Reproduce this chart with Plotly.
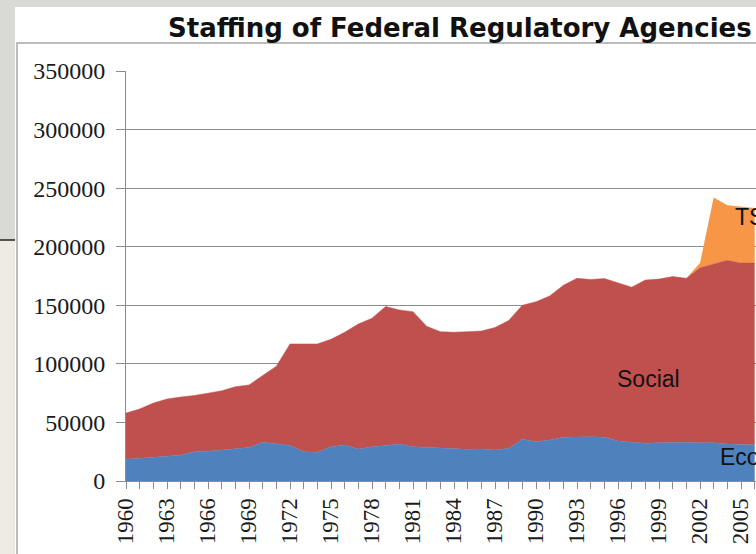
import plotly.graph_objects as go

years = list(range(1960, 2007))
economic = [18500, 19300, 20200, 21300, 21900, 25000, 25300, 26500, 27300, 28500,
            33000, 31600, 30400, 25000, 24500, 29300, 30700, 27300, 29300, 30400,
            31600, 29300, 28700, 27600, 27000, 27000, 27300, 26500, 27900, 35600,
            33600, 35000, 37300, 37800, 37800, 37300, 34100, 33000, 32200, 32700,
            33000, 33000, 32700, 32700, 31600, 31600, 31000]
social = [39500, 42200, 46300, 48700, 49800, 48000, 49700, 50500, 53200, 53500,
          57000, 66400, 86600, 92000, 92500, 91700, 96300, 106700, 109700, 118600,
          114400, 115200, 103300, 99900, 100000, 100500, 100700, 104500, 109100, 114400,
          119400, 123000, 129700, 135200, 134200, 135500, 134900, 132500, 139300, 139700,
          141500, 140000, 149300, 152300, 156900, 154400, 155000]
tsa_years = [2001, 2002, 2003, 2004, 2005, 2006]
tsa = [0, 4000, 57000, 47000, 48000, 47000]

label_years = list(range(1960, 2007, 3))
y_ticks = [0, 50000, 100000, 150000, 200000, 250000, 300000, 350000]

W, H = 756, 554
L, R, T, B = 126, 0, 71, 73
PW, PH = W - L - R, H - T - B


def px(x):
    return (x - L) / PW


def py(y):
    return (H - B - y) / PH


fig = go.Figure()
fig.add_trace(go.Scatter(x=years, y=economic, stackgroup="s", mode="lines",
                         line=dict(width=0.5, color="#4f81bd"), fillcolor="#4f81bd",
                         name="Economic", hoverinfo="skip"))
fig.add_trace(go.Scatter(x=years, y=social, stackgroup="s", mode="lines",
                         line=dict(width=0.5, color="#c0504d"), fillcolor="#c0504d",
                         name="Social", hoverinfo="skip"))
fig.add_trace(go.Scatter(x=tsa_years, y=tsa, stackgroup="s", mode="lines",
                         line=dict(width=0, color="#f79646"), fillcolor="#f79646",
                         name="TSA", hoverinfo="skip"))

shapes = [
    dict(type="rect", xref="paper", yref="paper", x0=px(15), x1=px(800), y0=py(7), y1=py(600),
         fillcolor="white", line=dict(width=0), layer="below"),
    dict(type="rect", xref="paper", yref="paper", x0=px(-5), x1=px(15), y0=py(240), y1=py(600),
         fillcolor="#eeebe3", line=dict(width=0), layer="below"),
    dict(type="line", xref="paper", yref="paper", x0=px(0), x1=px(15), y0=py(240), y1=py(240),
         line=dict(width=1.5, color="#222222"), layer="below"),
    dict(type="rect", xref="paper", yref="paper", x0=px(17), x1=px(800), y0=py(43), y1=py(600),
         fillcolor="rgba(0,0,0,0)", line=dict(width=1.5, color="#a6a6a6"), layer="below"),
]

annotations = [
    dict(text="<b>Staffing of Federal Regulatory Agencies</b>", xref="paper", yref="paper",
         x=px(166), y=py(28), xanchor="left", yanchor="middle", showarrow=False,
         font=dict(family="DejaVu Sans", size=26, color="#111111")),
    dict(text="Social", xref="x", yref="y", x=1998.2, y=87000, xanchor="center",
         yanchor="middle", showarrow=False,
         font=dict(family="Liberation Sans", size=23, color="#111111")),
    dict(text="TSA", xref="x", yref="y", x=2004.4, y=225000, xanchor="left",
         yanchor="middle", showarrow=False,
         font=dict(family="Liberation Sans", size=23, color="#111111")),
    dict(text="Economic", xref="x", yref="y", x=2003.3, y=20500, xanchor="left",
         yanchor="middle", showarrow=False,
         font=dict(family="Liberation Sans", size=23, color="#111111")),
]

fig.update_layout(
    width=W, height=H,
    margin=dict(l=L, r=R, t=T, b=B, pad=0),
    paper_bgcolor="#d9d9d5", plot_bgcolor="white",
    showlegend=False, hovermode=False,
    shapes=shapes, annotations=annotations,
    xaxis=dict(range=[1960, 1960 + PW / 13.667], tickmode="array", tickvals=label_years,
               ticktext=[str(y) for y in label_years], tickangle=-90,
               ticks="outside", ticklen=7, tickcolor="#8c8c8c", tickwidth=1,
               minor=dict(dtick=1, tick0=1960, ticks="outside", ticklen=7,
                          tickcolor="#8c8c8c", showgrid=False),
               showgrid=False, showline=True, linecolor="#8c8c8c", linewidth=1,
               zeroline=False,
               tickfont=dict(family="Liberation Serif", size=23, color="#1a1a1a")),
    yaxis=dict(range=[0, 350000], tickmode="array", tickvals=y_ticks,
               ticktext=[str(v) for v in y_ticks],
               ticks="outside", ticklen=9, tickcolor="#8c8c8c",
               ticklabelstandoff=6,
               showgrid=True, gridcolor="#8c8c8c", gridwidth=1,
               showline=True, linecolor="#8c8c8c", linewidth=1, zeroline=False,
               tickfont=dict(family="Liberation Serif", size=24, color="#1a1a1a")),
)

fig.write_html("out.html", config={"displayModeBar": False, "staticPlot": True},
               post_script="document.body.style.margin='0';document.body.style.overflow='hidden';")
